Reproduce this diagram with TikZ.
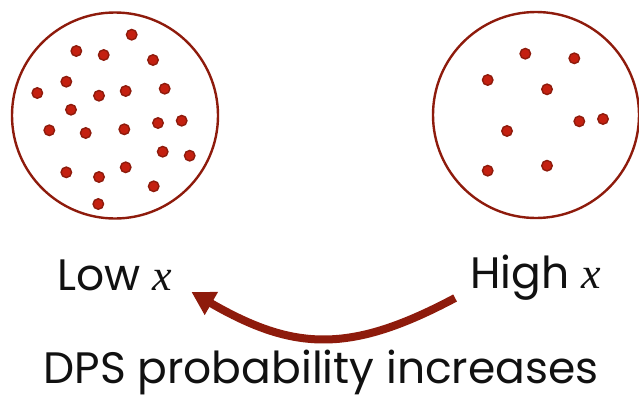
\documentclass[tikz,border=0pt]{standalone}
\usepackage{fontspec}
\setmainfont{Poppins}
\newfontfamily\varfont{Liberation Serif}
\usepackage{tikz}
\usepackage{xcolor}
\usetikzlibrary{arrows.meta,positioning,calc}
\definecolor{rimred}{HTML}{8E1B0C}
\definecolor{dotred}{HTML}{C42010}
\definecolor{ink}{HTML}{111111}
\newcommand{\xvar}{{\varfont\itshape x}}
\tikzset{
  blob/.style={circle,draw=rimred,line width=2.4pt,minimum size=206pt,
               inner sep=0pt},
  dot/.style={circle,draw=rimred,fill=dotred,line width=1.4pt,
              minimum size=10.5pt,inner sep=0pt},
  lbl/.style={text=ink,inner sep=0pt,anchor=base,
              font=\fontsize{44}{50}\selectfont},
  redarr/.style={-{Triangle[length=23pt,width=25pt]},line width=8pt,
                 draw=rimred}
}

\begin{document}
\begin{tikzpicture}[x=1pt,y=1pt]
    \path[use as bounding box] (0,0) rectangle (639,400);

    \node[blob] (lowset) at (115,284.5) {};
    \node[blob] (highset) at (536,285) {};

    % dense sample
    \foreach \p [count=\i] in {(131.7,365.3),(76.3,349),(103.7,345),(153,340),
        (66.3,318.3),(37.3,307),(99,304.3),(125.7,309),(164.7,311.3),
        (71,290.3),(49.3,269.7),(85.7,267),(124.3,270.7),(158,277),
        (181.7,279.3),(162.7,248.3),(189.7,244.3),(66.3,227.7),(99,223),
        (125.7,232.7),(153.7,213.7),(98.3,196)}
      \node[dot] (ld\i) at \p {};

    % sparse sample
    \foreach \p [count=\i] in {(525.3,346.3),(574.3,341.7),(487.7,320),
        (547,310.7),(579.3,278.7),(603,281),(507,269),(487.7,229.3),
        (547,234.3)}
      \node[dot] (hd\i) at \p {};

    \node[lbl] (low) at (115,110) {Low \xvar};
    \node[lbl] (high) at (535.5,112) {High \xvar};
    \node[lbl] (dps) at (321,17) {DPS probability increases};

    \draw[redarr] ([shift={(-15,-10)}]high.base west)
      to[out=208,in=-30,looseness=1.15] ([shift={(19,-2)}]low.base east);
  \end{tikzpicture}
\end{document}
